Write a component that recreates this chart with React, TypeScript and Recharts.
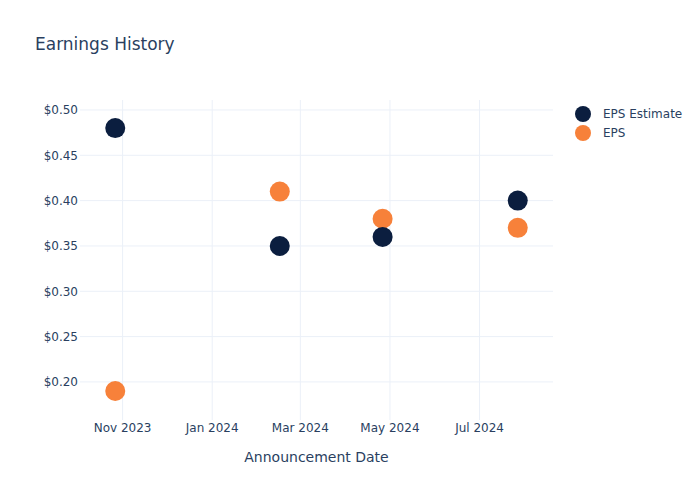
import { ScatterChart, Scatter, XAxis, YAxis, CartesianGrid } from 'recharts'

const announceDates = ['2023-10-27', '2024-02-16', '2024-04-26', '2024-07-27']
const epsEstimate = [0.48, 0.35, 0.36, 0.4]
const epsActual = [0.19, 0.41, 0.38, 0.37]

const xTickDates = ['2023-11-01', '2024-01-01', '2024-03-01', '2024-05-01', '2024-07-01']
const xTickLabels = ['Nov 2023', 'Jan 2024', 'Mar 2024', 'May 2024', 'Jul 2024']
const yTicks = [0.2, 0.25, 0.3, 0.35, 0.4, 0.45, 0.5]

const NAVY = '#0B1E3F'
const ORANGE = '#F7813A'
const TEXT = '#2a3f5f'
const GRID = '#EBF0F8'
const FONT = '"DejaVu Sans", Verdana, sans-serif'

const toTs = (d: string) => Date.parse(d + 'T00:00:00Z')

const estimateData = announceDates.map((d, i) => ({ x: toTs(d), y: epsEstimate[i] }))
const actualData = announceDates.map((d, i) => ({ x: toTs(d), y: epsActual[i] }))
const xTicks = xTickDates.map(toTs)

function formatXTick(v: number): string {
  const i = xTicks.indexOf(v)
  return i >= 0 ? xTickLabels[i] : ''
}

function Dot(color: string) {
  return (props: any) => <circle cx={props.cx} cy={props.cy} r={10} fill={color} />
}

// grid lines only at the tick values, no box around the plot
const scaleOf = (axis: any) => (typeof axis?.scale === 'function' ? axis.scale : axis?.scale?.map)
function hLines(p: any): number[] {
  const s = scaleOf(p.yAxis)
  return s ? yTicks.map((t) => s(t)) : []
}
function vLines(p: any): number[] {
  const s = scaleOf(p.xAxis)
  return s ? xTicks.map((t) => s(t)) : []
}

// legend drawn outside the chart so recharts doesn't reserve room for it
function ChartLegend() {
  const items = [
    { name: 'EPS Estimate', color: NAVY },
    { name: 'EPS', color: ORANGE },
  ]
  return (
    <svg width={130} height={40} style={{ position: 'absolute', left: 575, top: 105 }}>
      {items.map((it, i) => (
        <g key={it.name}>
          <circle cx={8} cy={9 + i * 19} r={8} fill={it.color} />
          <text x={28} y={13 + i * 19} fontSize={12} fill={TEXT} fontFamily={FONT}>
            {it.name}
          </text>
        </g>
      ))}
    </svg>
  )
}

export default function App() {
  return (
    <div style={{ position: 'absolute', left: 0, top: 0, width: 700, height: 500, background: '#fff', fontFamily: FONT }}>
      <div style={{ position: 'absolute', left: 35, top: 34, fontSize: 17, color: TEXT }}>Earnings History</div>
      <ScatterChart width={700} height={500} margin={{ top: 100, right: 147, left: 0, bottom: 0 }}>
        <CartesianGrid
          stroke={GRID}
          strokeWidth={1}
          horizontalCoordinatesGenerator={hLines}
          verticalCoordinatesGenerator={vLines}
        />
        <XAxis
          type="number"
          dataKey="x"
          domain={[toTs('2023-10-03'), toTs('2024-08-20')]}
          ticks={xTicks}
          tickFormatter={formatXTick}
          tick={{ fill: TEXT, fontSize: 12, fontFamily: FONT }}
          axisLine={false}
          tickLine={false}
          tickSize={0}
          tickMargin={3}
          height={80}
          allowDataOverflow
          label={{
            value: 'Announcement Date',
            position: 'insideBottom',
            offset: 38,
            style: { fill: TEXT, fontSize: 14, fontFamily: FONT },
          }}
        />
        <YAxis
          type="number"
          dataKey="y"
          domain={[0.158, 0.511]}
          ticks={yTicks}
          tickFormatter={(v: number) => `$${v.toFixed(2)}`}
          tick={{ fill: TEXT, fontSize: 12, fontFamily: FONT }}
          axisLine={false}
          tickLine={false}
          tickSize={0}
          tickMargin={2}
          width={80}
          allowDataOverflow
        />
        {/* EPS first so the estimate dots sit on top where they overlap */}
        <Scatter name="EPS" data={actualData} fill={ORANGE} shape={Dot(ORANGE)} isAnimationActive={false} />
        <Scatter name="EPS Estimate" data={estimateData} fill={NAVY} shape={Dot(NAVY)} isAnimationActive={false} />
      </ScatterChart>
      <ChartLegend />
    </div>
  )
}
